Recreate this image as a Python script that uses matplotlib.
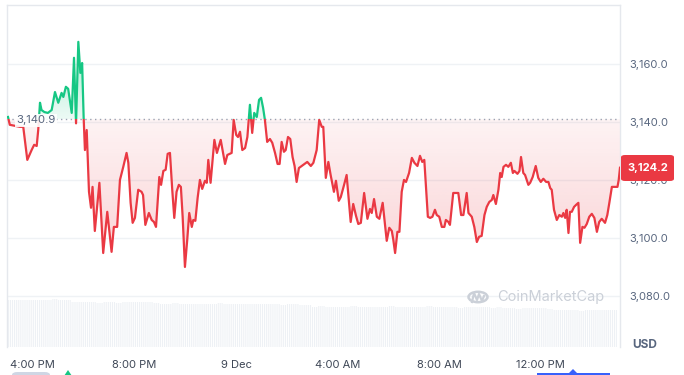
import numpy as np
import matplotlib
matplotlib.use("Agg")
import matplotlib.pyplot as plt
from matplotlib.patches import Rectangle, PathPatch, FancyBboxPatch, Circle, Polygon
from matplotlib.path import Path

# ---------------- data ----------------
# hours since 15:00 (8 Dec) and ETH price in USD
hours = [0.02, 0.09, 0.49, 0.62, 0.78, 0.95, 1.05, 1.15, 1.21, 1.28, 1.34, 1.45, 1.59, 1.74, 1.87, 2.00,
         2.13, 2.20, 2.30, 2.39, 2.53, 2.62, 2.70, 2.79, 2.87, 2.94, 3.00, 3.05, 3.12, 3.21, 3.29, 3.35,
         3.44, 3.62, 3.77, 3.93, 4.10, 4.19, 4.32, 4.43, 4.56, 4.69, 4.76, 4.85, 4.93, 5.02, 5.15, 5.28,
         5.34, 5.43, 5.57, 5.68, 5.77, 5.85, 5.98, 6.05, 6.14, 6.23, 6.31, 6.40, 6.49, 6.57, 6.66, 6.75,
         6.83, 6.90, 6.99, 7.08, 7.16, 7.26, 7.32, 7.40, 7.49, 7.58, 7.67, 7.78, 7.85, 7.91, 8.00, 8.15,
         8.25, 8.40, 8.57, 8.66, 8.83, 8.91, 9.01, 9.08, 9.16, 9.25, 9.36, 9.45, 9.55, 9.64, 9.72, 9.82,
         9.91, 9.99, 10.07, 10.14, 10.23, 10.34, 10.43, 10.54, 10.64, 10.72, 10.80, 10.89, 10.96, 11.05,
         11.14, 11.23, 11.31, 11.39, 11.48, 11.65, 11.81, 11.95, 12.05, 12.18, 12.28, 12.38, 12.44, 12.54,
         12.64, 12.73, 12.86, 12.94, 13.05, 13.13, 13.26, 13.36, 13.44, 13.52, 13.62, 13.73, 13.82, 13.92,
         14.05, 14.18, 14.28, 14.35, 14.44, 14.55, 14.65, 14.78, 14.94, 15.04, 15.14, 15.20, 15.27, 15.36,
         15.44, 15.53, 15.62, 15.70, 15.82, 15.93, 16.03, 16.15, 16.25, 16.34, 16.42, 16.56, 16.65, 16.74,
         16.84, 16.91, 17.01, 17.11, 17.21, 17.27, 17.37, 17.43, 17.56, 17.70, 17.76, 17.87, 17.96, 18.09,
         18.16, 18.29, 18.39, 18.49, 18.58, 18.68, 18.79, 18.88, 18.98, 19.08, 19.14, 19.24, 19.34, 19.41,
         19.47, 19.54, 19.64, 19.73, 19.83, 19.91, 19.97, 20.09, 20.17, 20.23, 20.32, 20.39, 20.52, 20.59,
         20.69, 20.81, 20.91, 21.01, 21.11, 21.22, 21.31, 21.38, 21.44, 21.53, 21.64, 21.74, 21.84, 21.90,
         21.97, 22.03, 22.10, 22.16, 22.23, 22.32, 22.40, 22.49, 22.56, 22.65, 22.73, 22.82, 22.92, 23.02,
         23.12, 23.22, 23.31, 23.41, 23.54, 23.63, 23.71, 23.81, 23.92, 24.03, 24.08, 24.13]
prices = [3141.7, 3139.0, 3138.3, 3138.3, 3126.9, 3130.3, 3132.1, 3131.7, 3137.2, 3146.6, 3144.1, 3143.4,
          3143.1, 3144.1, 3150.3, 3146.6, 3150.0, 3148.6, 3152.1, 3151.4, 3143.1, 3162.1, 3139.5, 3167.6,
          3156.9, 3160.3, 3141.4, 3130.3, 3137.2, 3115.9, 3110.4, 3117.6, 3102.4, 3119.0, 3094.8, 3109.0,
          3095.2, 3103.8, 3103.8, 3120.0, 3124.5, 3129.3, 3125.9, 3112.1, 3105.2, 3106.9, 3116.6, 3115.9,
          3114.8, 3104.5, 3108.6, 3106.2, 3105.5, 3103.8, 3121.0, 3118.3, 3123.1, 3123.5, 3129.0, 3129.3,
          3116.6, 3106.9, 3115.9, 3118.3, 3117.6, 3107.3, 3090.0, 3099.3, 3108.6, 3103.8, 3106.2, 3105.9,
          3113.8, 3120.0, 3116.9, 3119.7, 3119.0, 3126.9, 3119.0, 3133.8, 3129.3, 3133.8, 3125.5, 3128.6,
          3129.3, 3140.7, 3135.5, 3134.8, 3136.6, 3130.3, 3131.0, 3134.8, 3145.9, 3136.2, 3143.1, 3141.7,
          3147.6, 3148.3, 3144.8, 3140.7, 3133.1, 3134.1, 3132.8, 3129.3, 3125.5, 3125.5, 3133.1, 3129.7,
          3130.3, 3134.8, 3134.1, 3127.9, 3124.8, 3119.3, 3124.1, 3125.2, 3126.2, 3124.8, 3125.9, 3130.3,
          3140.7, 3138.3, 3138.3, 3120.7, 3126.2, 3121.7, 3115.9, 3119.7, 3112.8, 3114.1, 3118.3, 3121.7,
          3113.8, 3105.5, 3111.7, 3107.6, 3104.8, 3105.2, 3115.5, 3106.6, 3110.0, 3108.6, 3113.4, 3107.3,
          3106.6, 3112.1, 3099.0, 3103.5, 3102.4, 3099.3, 3094.8, 3102.1, 3102.1, 3115.9, 3120.0, 3119.3,
          3122.4, 3127.6, 3125.9, 3124.8, 3128.3, 3126.2, 3126.9, 3107.3, 3106.9, 3107.3, 3109.7, 3107.9,
          3107.3, 3103.8, 3103.8, 3106.2, 3105.5, 3104.5, 3115.5, 3115.5, 3115.5, 3107.9, 3107.9, 3115.5,
          3108.6, 3107.3, 3103.8, 3098.6, 3100.4, 3100.7, 3107.9, 3110.7, 3112.4, 3113.1, 3114.8, 3111.7,
          3116.6, 3122.4, 3121.0, 3124.5, 3125.2, 3124.5, 3125.9, 3122.4, 3123.1, 3122.1, 3123.1, 3127.9,
          3122.4, 3121.7, 3118.3, 3119.0, 3121.0, 3124.8, 3120.7, 3119.3, 3120.4, 3119.3, 3119.3, 3117.2,
          3116.6, 3109.7, 3106.2, 3107.9, 3107.3, 3108.6, 3106.9, 3109.7, 3101.7, 3109.0, 3109.0, 3110.7,
          3111.4, 3112.1, 3098.3, 3103.8, 3103.5, 3104.8, 3107.3, 3108.3, 3106.9, 3102.1, 3105.5, 3106.6,
          3105.2, 3107.9, 3112.1, 3117.6, 3117.6, 3117.6, 3120.0, 3124.2]
base_price = 3140.9
last_price = 3124.2

# 15-minute volume (relative units)
volume = [1.40, 1.41, 1.40, 1.40, 1.41, 1.42, 1.42, 1.43, 1.42, 1.41,
          1.36, 1.35,
          1.34, 1.34, 1.33, 1.34, 1.34, 1.33, 1.34,
          1.36, 1.36, 1.35, 1.36,
          1.31, 1.30, 1.30, 1.31, 1.30, 1.30, 1.30, 1.29, 1.30, 1.30, 1.31, 1.30, 1.30, 1.29, 1.30, 1.30, 1.29, 1.30,
          1.28, 1.28, 1.27, 1.28, 1.28, 1.27, 1.27,
          1.21, 1.22, 1.21, 1.21, 1.20, 1.21, 1.22, 1.21, 1.21, 1.20, 1.21, 1.21, 1.22, 1.21, 1.20, 1.21, 1.21, 1.21, 1.22, 1.21, 1.20,
          1.19, 1.19, 1.18, 1.19, 1.19, 1.20, 1.19, 1.18, 1.19,
          1.16, 1.16, 1.15, 1.16, 1.17, 1.16, 1.16, 1.15,
          1.10, 1.10, 1.11, 1.10, 1.09, 1.10, 1.10, 1.11, 1.10, 1.10]
volume_step_hours = 0.25

y_ticks = [3080, 3100, 3120, 3140, 3160]
x_tick_hours = [1, 5, 9, 13, 17, 21]
x_tick_labels = ["4:00 PM", "8:00 PM", "9 Dec", "4:00 AM", "8:00 AM", "12:00 PM"]

# ---------------- style ----------------
RED = "#ea3943"
GREEN = "#16c784"
TXT = "#58667e"
GRID = "#eff2f5"
BORDER = "#e5e8ed"
plt.rcParams['font.family'] = ['Inter', 'DejaVu Sans']
plt.rcParams['hatch.linewidth'] = 0.7

W, H = 684, 375
fig = plt.figure(figsize=(W / 100, H / 100), dpi=100)
fig.patch.set_facecolor("white")


def fx(px):
    return px / W


def fy(py):
    return 1 - py / H


XMIN, XMAX = -0.02, 24.13
YMIN, YMAX = 3062.4, 3180.3

# volume axes (below price axes)
axv = fig.add_axes([fx(7), fy(347), fx(620) - fx(7), fy(297) - fy(347)], zorder=0)
vt = np.arange(len(volume)) * volume_step_hours + volume_step_hours / 2
axv.bar(vt, volume, width=volume_step_hours, color="#eef1f5", edgecolor="white",
        linewidth=0, hatch="||||||||")
axv.set_xlim(XMIN, XMAX)
axv.set_ylim(0, 1.5)
axv.axis("off")

ax = fig.add_axes([fx(7), fy(347), fx(620) - fx(7), fy(5) - fy(347)], zorder=1)
ax.patch.set_alpha(0)

t = np.array(hours)
p = np.array(prices)

for yt in y_ticks:
    ax.axhline(yt, color=GRID, lw=1, zorder=0.5)

# gradient fills
def gradient_fill(mask_cond, y0, y1, a0, a1, color):
    coll = ax.fill_between(t, p, base_price, where=mask_cond, interpolate=True,
                           facecolor="none", edgecolor="none")
    paths = coll.get_paths()
    if not paths:
        return
    comp = Path.make_compound_path(*paths)
    patch = PathPatch(comp, transform=ax.transData, facecolor="none", edgecolor="none")
    ax.add_patch(patch)
    n = 256
    rgba = np.zeros((n, 1, 4))
    rgba[..., :3] = matplotlib.colors.to_rgb(color)
    rgba[:, 0, 3] = np.linspace(a0, a1, n)
    im = ax.imshow(rgba, extent=[XMIN, XMAX, y0, y1], origin="lower",
                   aspect="auto", zorder=1, interpolation="bilinear")
    im.set_clip_path(patch)

gradient_fill(p <= base_price, 3085, base_price, 0.24, 0.06, RED)
gradient_fill(p >= base_price, base_price, 3168, 0.08, 0.38, GREEN)

# price line split at baseline
ln_r, = ax.plot(t, p, color=RED, lw=1.6, zorder=3, solid_joinstyle="round")
ln_g, = ax.plot(t, p, color=GREEN, lw=1.6, zorder=3, solid_joinstyle="round")
rect_r = Rectangle((XMIN, YMIN), XMAX - XMIN, base_price - YMIN, transform=ax.transData)
rect_g = Rectangle((XMIN, base_price), XMAX - XMIN, YMAX - base_price, transform=ax.transData)
ln_r.set_clip_path(rect_r)
ln_g.set_clip_path(rect_g)

# baseline
ax.plot([XMIN, XMAX], [base_price, base_price], ls=(0, (1, 2.5)), color="#9aa3b2", lw=1, zorder=2)
ax.text(0.33, base_price - 0.4, f"{base_price:,.1f}", fontsize=8.2, color=TXT, va="center", ha="left",
        zorder=5, bbox=dict(boxstyle="square,pad=0.12", fc="white", ec="none", alpha=0.9))

ax.set_xlim(XMIN, XMAX)
ax.set_ylim(YMIN, YMAX)

# axes styling
for s in ["top", "left", "right"]:
    ax.spines[s].set_color(BORDER)
    ax.spines[s].set_linewidth(1)
ax.spines["bottom"].set_visible(False)
ax.yaxis.tick_right()
ax.set_yticks(y_ticks)
ax.set_yticklabels([f"{v:,.1f}" for v in y_ticks])
ax.set_xticks(x_tick_hours)
ax.set_xticklabels(x_tick_labels)
ax.tick_params(axis="y", length=0, pad=7, labelsize=8, labelcolor=TXT)
ax.tick_params(axis="x", length=0, pad=9, labelsize=8, labelcolor="#3e4756")

# current price tag
fig.patches.append(FancyBboxPatch((fx(621), fy(181)), fx(674) - fx(621), fy(155) - fy(181),
                                  boxstyle="round,pad=0,rounding_size=0.006",
                                  transform=fig.transFigure, fc=RED, ec="none", zorder=10))
fig.text(fx(647.5), fy(168), f"{last_price:,.1f}", color="white", fontsize=8, fontweight="bold",
         ha="center", va="center", zorder=11)

fig.text(fx(645), fy(345), "USD", color=TXT, fontsize=8.5, fontweight="bold", ha="center", va="center")

# watermark
fig.text(fx(497), fy(297), "CoinMarketCap", color="#cbd0d8", fontsize=10.5, ha="left", va="center", zorder=4)
fig.patches.append(Circle((fx(478), fy(297)), 9.5 / W, transform=fig.transFigure, fill=False,
                          ec="#cbd0d8", lw=1.8, zorder=4))
wave = [(472, 302), (474, 293), (477, 300), (479, 294), (482, 301), (484, 296)]
fig.lines.append(matplotlib.lines.Line2D([fx(a) for a, b in wave], [fy(b) for a, b in wave],
                                         transform=fig.transFigure, color="#cbd0d8", lw=1.6, zorder=4))

# cut-off controls at the bottom edge
fig.patches.append(FancyBboxPatch((fx(12), fy(380)), fx(50) - fx(12), fy(372) - fy(380),
                                  boxstyle="round,pad=0,rounding_size=0.008", transform=fig.transFigure,
                                  fc="#cfd6e4", ec="none"))
fig.patches.append(Polygon([(fx(64), fy(376)), (fx(68), fy(370)), (fx(72), fy(376))],
                           transform=fig.transFigure, fc=GREEN, ec="none"))
fig.patches.append(Rectangle((fx(537), fy(377)), fx(610) - fx(537), fy(373) - fy(377),
                             transform=fig.transFigure, fc="#3861fb", ec="none"))
fig.patches.append(Polygon([(fx(569), fy(373)), (fx(573), fy(369)), (fx(577), fy(373))],
                           transform=fig.transFigure, fc="#3861fb", ec="none"))

fig.savefig("out.png", dpi=100)
